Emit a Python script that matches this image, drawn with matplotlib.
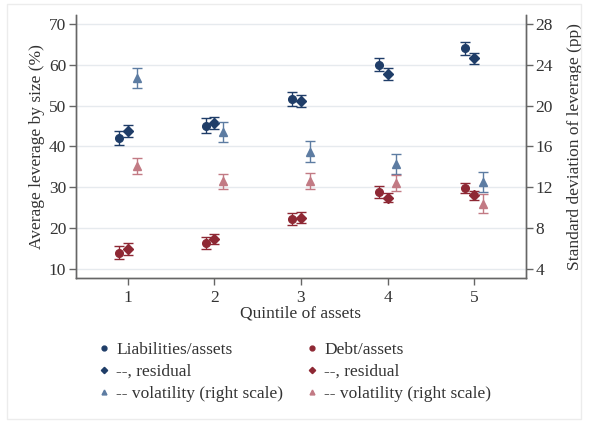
import matplotlib
matplotlib.use("Agg")
import matplotlib.pyplot as plt
from matplotlib.lines import Line2D
from matplotlib.patches import Rectangle
import numpy as np

plt.rcParams["font.family"] = ["Liberation Serif", "DejaVu Serif"]

# Size quintiles and estimates (left scale: percent, right scale: pp)
quintiles = [1, 2, 3, 4, 5]
liab = [42.0, 45.1, 51.6, 60.0, 64.0]
liab_err = [1.7, 1.8, 1.8, 1.6, 1.5]
liab_res = [43.8, 45.7, 51.2, 57.8, 61.6]
liab_res_err = [1.5, 1.5, 1.5, 1.4, 1.4]
liab_vol = [22.7, 17.4, 15.5, 14.3, 12.5]
liab_vol_err = [0.95, 1.0, 1.0, 0.95, 1.0]
debt = [14.0, 16.3, 22.2, 28.9, 29.8]
debt_err = [1.6, 1.5, 1.5, 1.4, 1.3]
debt_res = [14.9, 17.3, 22.6, 27.5, 28.0]
debt_res_err = [1.4, 1.3, 1.3, 1.2, 1.2]
debt_vol = [14.1, 12.6, 12.6, 12.4, 10.4]
debt_vol_err = [0.8, 0.75, 0.8, 0.8, 0.9]

left_ticks = [10, 20, 30, 40, 50, 60, 70]
right_ticks = [4, 8, 12, 16, 20, 24, 28]

navy = "#1f3d68"
red = "#8e2834"
navy_light = "#5d7ca2"
red_light = "#c27a84"
axis_col = "#666666"
text_col = "#333333"
fs = 12.5

fig = plt.figure(figsize=(5.89, 4.28), dpi=100)
fig.patches.append(Rectangle((0.012, 0.022), 0.974, 0.968, transform=fig.transFigure,
                             fill=False, edgecolor="#ececec", linewidth=1.0, zorder=0))
ax = fig.add_axes([0.129, 0.3505, 0.764, 0.6145])
ax2 = ax.twinx()

x = np.array(quintiles, dtype=float)
off = 0.1
common = dict(linestyle="none", capsize=3.5, elinewidth=1.0, capthick=1.0)

ax.errorbar(x - off, liab, yerr=liab_err, marker="o", ms=5.5, color=navy, **common, zorder=3)
ax.errorbar(x, liab_res, yerr=liab_res_err, marker="D", ms=4.8, color=navy, **common, zorder=3)
ax.errorbar(x - off, debt, yerr=debt_err, marker="o", ms=5.5, color=red, **common, zorder=3)
ax.errorbar(x, debt_res, yerr=debt_res_err, marker="D", ms=4.8, color=red, **common, zorder=3)
ax2.errorbar(x + off, liab_vol, yerr=liab_vol_err, marker="^", ms=5.5, color=navy_light, **common, zorder=3)
ax2.errorbar(x + off, debt_vol, yerr=debt_vol_err, marker="^", ms=5.5, color=red_light, **common, zorder=3)

ax.set_xlim(0.4, 5.6)
ax.set_ylim(7.8, 72.2)
ax2.set_ylim(3.12, 28.88)
ax.set_xticks(quintiles)
ax.set_yticks(left_ticks)
ax2.set_yticks(right_ticks)
ax.yaxis.grid(True, color="#e6eaee", linewidth=1.0)
ax.set_axisbelow(True)

for a in (ax, ax2):
    a.spines["top"].set_visible(False)
    for s in ("left", "right", "bottom"):
        a.spines[s].set_color(axis_col)
        a.spines[s].set_linewidth(1.0)
    a.tick_params(direction="out", length=5, width=1.0, color=axis_col,
                  labelsize=fs, labelcolor=text_col, pad=2)
ax.tick_params(axis="x", pad=4)

ax.set_xlabel("Quintile of assets", fontsize=fs, color=text_col, labelpad=-1)
ax.set_ylabel("Average leverage by size (%)", fontsize=fs, color=text_col, labelpad=3)
ax2.set_ylabel("Standard deviation of leverage (pp)", fontsize=fs, color=text_col, labelpad=10)

def mk(marker, color, ms):
    return Line2D([], [], linestyle="none", marker=marker, color=color, ms=ms)

handles = [mk("o", navy, 3.5), mk("D", navy, 3.2), mk("^", navy_light, 3.5),
           mk("o", red, 3.5), mk("D", red, 3.2), mk("^", red_light, 3.5)]
labels = ["Liabilities/assets", "--, residual", "-- volatility (right scale)",
          "Debt/assets", "--, residual", "-- volatility (right scale)"]
fig.legend(handles, labels, ncol=2, frameon=False, fontsize=fs,
           loc="upper left", bbox_to_anchor=(0.168, 0.202),
           handlelength=0.6, handletextpad=0.4, columnspacing=1.35,
           labelspacing=0.35, borderaxespad=0, borderpad=0,
           labelcolor=text_col)

fig.savefig("out.png", dpi=100)
